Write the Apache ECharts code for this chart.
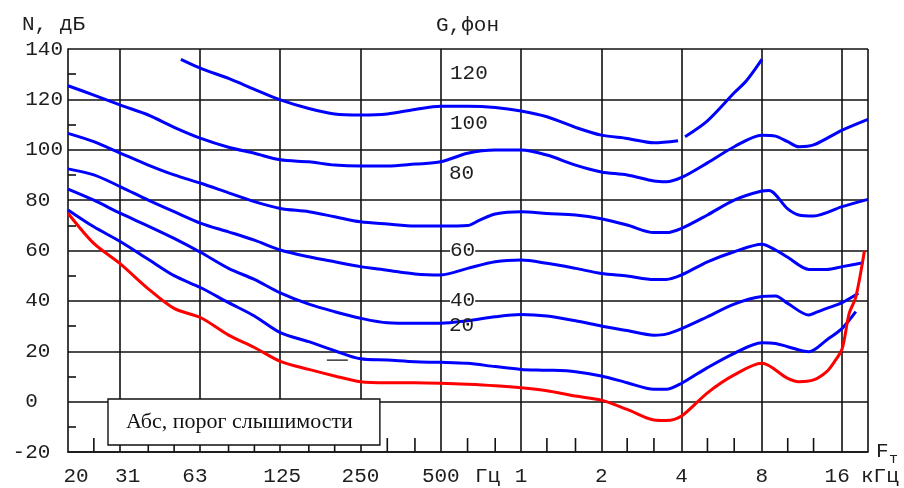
<!DOCTYPE html>
<html><head><meta charset="utf-8">
<script src="https://cdn.jsdelivr.net/npm/echarts@6/dist/echarts.min.js"></script>
<style>html,body{margin:0;padding:0;background:#fff}#c{width:904px;height:488px}</style>
</head><body><div id="c"></div>
<script>
// ---- axis definitions ----
const xTickFreqs = [20, 31.25, 62.5, 125, 250, 500, 1000, 2000, 4000, 8000, 16000];
const xTickLabels = ['20', '31', '63', '125', '250', '500', '1', '2', '4', '8', '16'];
const gridFreqs = [31.25, 62.5, 125, 250, 500, 1000, 2000, 4000, 8000, 16000, 20000];
const thirdOctaveFreqs = [25, 40, 50, 80, 100, 160, 200, 315, 400, 630, 800, 1250, 1600, 2500, 3150, 5000, 6300, 10000, 12500];

// ---- curves (Hz, dB) ----
const thrFreq  = [20,25,31.5,40,50,63,80,100,125,160,200,250,315,400,500,630,800,1000,1250,1600,2000,2500,3150,3500,4000,5000,6300,8000,10000,11000,12500,14000,15000,16000,17000,18000,19400];
const thrLevel = [74.8,62.8,54.6,44.8,37.0,33.3,26.4,21.5,16.0,12.8,10.2,7.9,7.5,7.5,7.3,6.9,6.3,5.5,4.3,2.2,0.6,-3.1,-7.3,-7.5,-5.7,3.5,10.6,15.2,9.2,7.9,8.6,11.9,16,21,35,41.5,60];

const p20Freq  = [20,25,31.5,40,50,63,80,100,125,160,200,250,315,400,500,630,800,1000,1250,1600,2000,2500,3150,3500,4000,5000,6300,8000,9000,10000,12000,14000,16000,18000];
const p20Level = [76.1,69.4,63.5,56.5,50.0,45.2,39.3,34.0,27.4,23.8,20.2,17.0,16.5,15.8,15.6,15.2,13.9,12.8,12.5,11.9,10.2,7.5,4.9,4.9,7.3,13.5,19.2,23.4,23.1,21.8,19.8,24.5,29.1,35.7];

const p40Freq  = [20,25,31.5,40,50,63,80,100,125,160,200,250,315,400,500,630,800,1000,1250,1600,2000,2500,3150,3500,4000,5000,6300,8000,9000,10000,12000,12500,14000,16000,18400];
const p40Level = [84.4,80.0,74.7,69.7,64.8,59.2,52.9,48.5,43.2,38.7,35.7,33.1,31.3,31.1,31.1,32.1,33.7,34.6,34.0,32.1,30.0,28.2,26.4,26.8,29.0,33.7,38.7,41.7,41.9,39.0,34.4,35.0,37.0,39.3,43.0];

const p60Freq  = [20,25,31.5,40,50,63,80,100,125,160,200,250,315,400,500,630,800,1000,1250,1600,2000,2500,3150,3500,4000,5000,6300,8000,9000,10000,12000,14000,16000,19200];
const p60Level = [92.4,90.0,85.3,80.0,75.4,70.8,67.4,64.1,60.2,57.5,55.5,53.6,52.2,50.7,50.3,52.9,55.5,56.2,54.9,52.9,50.9,49.9,48.5,48.5,50.3,55.5,59.5,62.5,60.2,57.3,52.5,52.5,53.6,55.1];

const p80Freq  = [20,25,31.5,40,50,63,80,100,125,160,200,250,315,400,500,630,700,800,1000,1250,1600,2000,2500,3150,3500,4000,5000,6300,8000,8500,10000,11000,12500,16000,20000];
const p80Level = [106.5,103.2,98.6,93.9,90.0,86.7,82.9,79.4,76.7,75.4,73.4,71.4,70.5,69.7,69.7,69.9,72.1,74.5,75.4,74.7,74.1,72.6,70.1,67.1,67.1,68.8,74.1,80.0,83.6,83.8,76.5,74.1,73.7,77.4,80.3];

const p100Freq  = [20,25,31.5,40,50,63,80,100,125,160,200,250,315,400,500,630,800,1000,1250,1600,2000,2500,3150,3500,4000,5000,6300,8000,9000,10000,11000,12500,16000,20000];
const p100Level = [125.4,121.7,117.7,113.8,108.9,104.5,101.0,98.6,96.0,95.2,93.9,93.5,93.5,94.3,95.2,98.6,99.9,99.9,97.9,93.9,91.2,90.0,87.6,87.3,89.0,94.8,101.2,105.8,105.4,103.2,101.2,101.9,107.8,112.1];

const p120Freq  = [53,63,80,100,125,160,200,250,315,400,500,630,800,1000,1250,1600,2000,2500,3150,3880,4000,4120,5000,6300,7000,8000];
const p120Level = [135.9,132.3,128.3,124.0,119.8,116.4,114.2,113.8,114.2,116.0,117.3,117.3,116.8,115.4,113.1,108.9,105.8,104.5,102.8,103.6,null,105.2,111.5,122.6,127.4,135.9];

const dashFreq  = [187, 224];
const dashLevel = [16.5, 16.5];

const legendName = 'Абс, порог слышимости';

// ---- build ----
const L2 = f => Math.log2(f / 1000);
const pts = (fs, ls) => fs.map((f, i) => [L2(f), ls[i]]);
const xMin = L2(20), xMax = L2(20000);
const yMin = -20, yMax = 140;
const MONO = "'Liberation Mono','DejaVu Sans Mono',monospace";
const FS = 21;
const TXT = '#1e1e1e';
const TICK_LEN = 14;
const LEGEND_LEFT = 108, LEGEND_TOP = 399, LEGEND_W = 272, LEGEND_H = 46;
const labelShift = {'20': 8, '31': 8, '63': -5, '125': 2, '16': -5};

const rich = {};
xTickLabels.forEach((t, i) => {
  const s = labelShift[t] || 0;
  rich['t' + i] = {fontFamily: MONO, fontSize: FS, color: TXT,
    padding: s >= 0 ? [0, 0, 0, 2 * s] : [0, -2 * s, 0, 0]};
});

const chart = echarts.init(document.getElementById('c'), null, {renderer: 'canvas'});

const blue = (name, fs, ls) => ({
  name, type: 'line', xAxisIndex: 0, yAxisIndex: 0, data: pts(fs, ls),
  showSymbol: false, symbol: 'none', smooth: 0.3, connectNulls: false,
  lineStyle: {color: '#0000ff', width: 3}, silent: true, z: 3
});

const textEl = (x, y, text, extra) => Object.assign({
  type: 'text', x, y, z: 100,
  style: Object.assign({text, font: FS + 'px ' + MONO, fill: TXT, verticalAlign: 'middle', align: 'left'}, extra || {})
});

const LINE = {color: '#111', width: 1.6};

chart.setOption({
  animation: false,
  backgroundColor: '#fff',
  grid: {left: 68, right: 36, top: 49, bottom: 36},
  xAxis: [{
    type: 'value', min: xMin, max: xMax, position: 'bottom',
    axisLine: {show: true, onZero: false, lineStyle: LINE},
    axisTick: {show: false},
    splitLine: {show: false},
    axisLabel: {
      customValues: xTickFreqs.map(L2), margin: 14,
      fontFamily: MONO, fontSize: FS, color: TXT,
      formatter: v => {
        let k = 0, best = 1e9;
        xTickFreqs.forEach((f, i) => { const d = Math.abs(L2(f) - v); if (d < best) { best = d; k = i; } });
        return '{t' + k + '|' + xTickLabels[k] + '}';
      },
      rich
    }
  }, {
    type: 'value', min: xMin, max: xMax, position: 'top',
    axisLine: {show: false, onZero: false},
    axisTick: {show: false, customValues: gridFreqs.map(L2)},
    splitLine: {show: true, lineStyle: LINE},
    axisLabel: {show: false}
  }],
  yAxis: {
    type: 'value', min: yMin, max: yMax, interval: 20, position: 'left',
    axisLine: {show: true, onZero: false, lineStyle: LINE},
    axisTick: {show: false, inside: true},
    minorTick: {show: true, splitNumber: 2, length: 8, lineStyle: LINE},
    splitLine: {show: true, lineStyle: LINE},
    axisLabel: {
      margin: 5, fontFamily: MONO, fontSize: FS, color: TXT,
      formatter: v => (v < 0 ? '-' : '') + String(Math.abs(v)).padEnd(3, ' ')
    }
  },
  legend: {
    left: LEGEND_LEFT, top: LEGEND_TOP, orient: 'horizontal', selectedMode: false,
    data: [{name: legendName, icon: 'none'}],
    itemWidth: 0, itemHeight: 0, itemGap: 0,
    padding: [12, 27, 12, 13],
    backgroundColor: '#fff', borderColor: '#111', borderWidth: 1.4,
    textStyle: {fontFamily: "'Liberation Serif','DejaVu Serif',serif", fontSize: 22, color: '#111'}
  },
  series: [
    blue('120', p120Freq, p120Level),
    blue('100', p100Freq, p100Level),
    blue('80', p80Freq, p80Level),
    blue('60', p60Freq, p60Level),
    blue('40', p40Freq, p40Level),
    blue('20', p20Freq, p20Level),
    {
      name: legendName, type: 'line', data: pts(thrFreq, thrLevel),
      showSymbol: false, symbol: 'none', smooth: 0.3,
      lineStyle: {color: '#ff0000', width: 3}, silent: true, z: 4
    },
    {
      name: 'dash', type: 'line', data: pts(dashFreq, dashLevel),
      showSymbol: false, symbol: 'none', lineStyle: {color: '#111', width: 1.2}, silent: true, z: 4
    }
  ]
});

// 1/3-octave minor ticks along the frequency axis, positioned through the axis scale;
// the part hidden behind the legend box is not drawn
const boxBottom = LEGEND_TOP + LEGEND_H;
const tickEls = [];
thirdOctaveFreqs.forEach(f => {
  const p = chart.convertToPixel({xAxisIndex: 0, yAxisIndex: 0}, [L2(f), yMin]);
  if (!p || !isFinite(p[0]) || !isFinite(p[1])) return;
  const underBox = p[0] > LEGEND_LEFT && p[0] < LEGEND_LEFT + LEGEND_W;
  const top = underBox ? Math.max(p[1] - TICK_LEN, boxBottom) : p[1] - TICK_LEN;
  tickEls.push({type: 'line', silent: true, z: 90,
    shape: {x1: p[0], y1: p[1], x2: p[0], y2: top},
    style: {stroke: '#111', lineWidth: 1.6}});
});

chart.setOption({
  graphic: [
    {type: 'group', z: 90, silent: true, children: tickEls},
    textEl(22, 24, 'N, дБ'),
    textEl(436, 25, 'G,фон'),
    textEl(450, 73, '120'),
    textEl(450, 123, '100'),
    textEl(449, 173, '80'),
    textEl(450, 250, '60', {backgroundColor: '#fff'}),
    textEl(450, 300, '40', {backgroundColor: '#fff'}),
    textEl(449, 325, '20'),
    textEl(475, 476, 'Гц'),
    textEl(861, 476, 'кГц'),
    textEl(876, 451, 'F'),
    textEl(889, 459, 'т', {font: '15px ' + MONO})
  ]
});
</script></body></html>
